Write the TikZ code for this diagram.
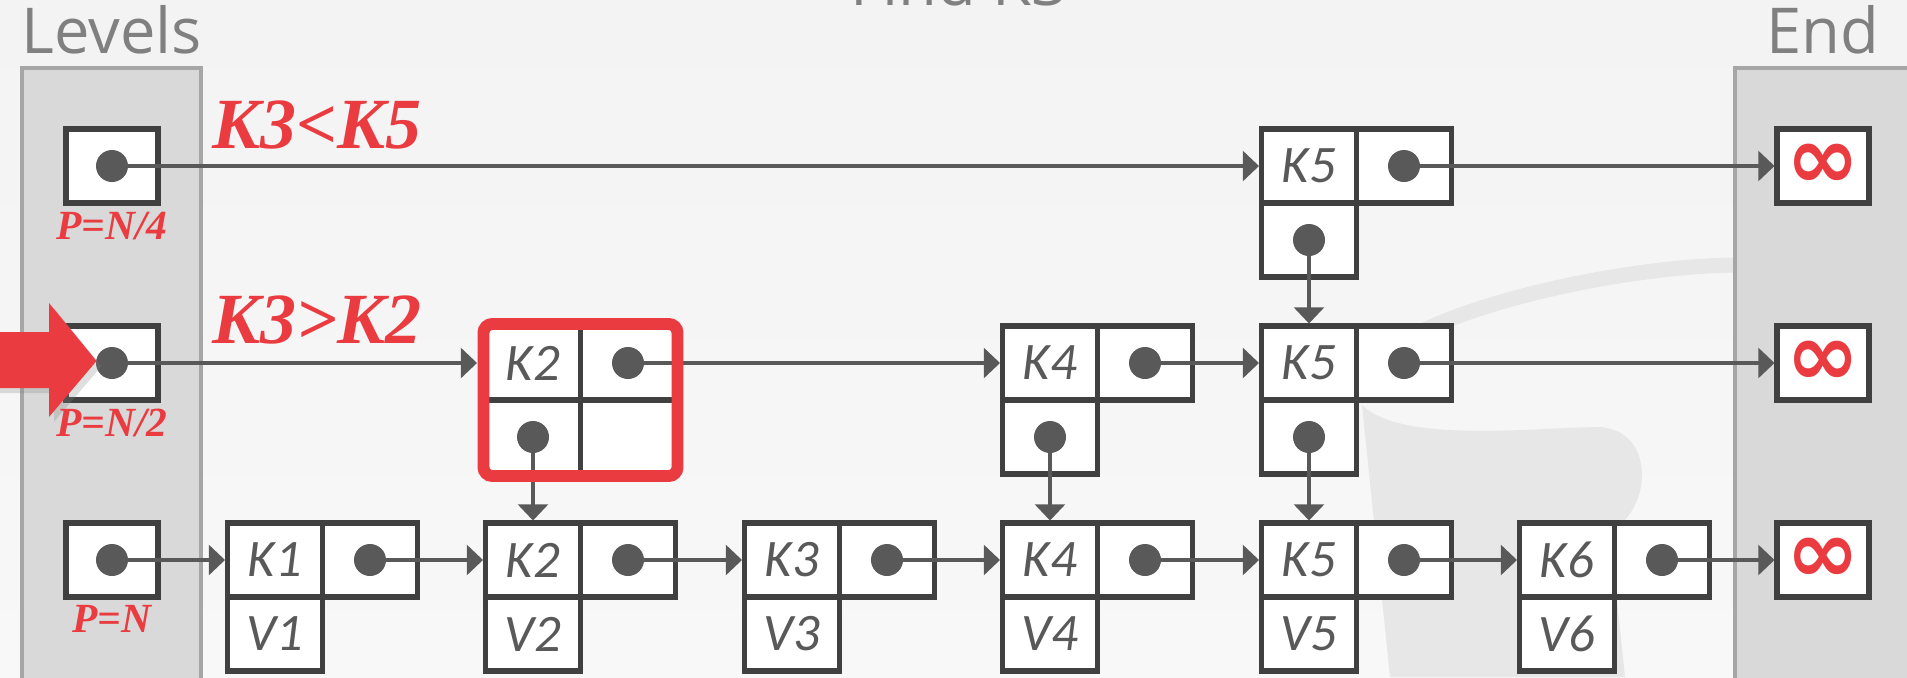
\documentclass[tikz,border=0pt]{standalone}
\usepackage{fontspec}
\setmainfont{Open Sans}
\newfontfamily\keyfam{Carlito}
\newfontfamily\redfam{Liberation Serif}
\newfontfamily\symfam{DejaVu Sans}
\usepackage{tikz}
\usetikzlibrary{arrows.meta, calc, positioning, shadows}

\definecolor{bgtop}{RGB}{243,243,243}
\definecolor{bgbot}{RGB}{248,248,248}
\definecolor{wmark}{RGB}{231,231,231}
\definecolor{boxgray}{RGB}{64,64,64}
\definecolor{linkgray}{RGB}{89,89,89}
\definecolor{lvlfill}{RGB}{217,217,217}
\definecolor{lvldraw}{RGB}{166,166,166}
\definecolor{titlegray}{RGB}{128,128,128}
\definecolor{hotred}{RGB}{234,60,64}

\begin{document}
\begin{tikzpicture}[>={Triangle[length=4.6pt,width=8.4pt]},
   cell/.style={draw=boxgray,line width=1.45pt,fill=white,minimum width=0.95cm,
     minimum height=0.74cm,inner sep=0pt,outer sep=0pt,text=linkgray,
     font=\keyfam\itshape\fontsize{15}{17}\selectfont},
   headcell/.style={cell,minimum width=0.92cm},
   endcell/.style={headcell,text=hotred,font=\symfam\bfseries\fontsize{25}{27}\selectfont},
   link/.style={->,draw=linkgray,line width=1.25pt,shorten >=0.7pt},
   heading/.style={text=titlegray,inner sep=0pt,font=\fontsize{18}{20}\selectfont},
   cmp/.style={text=hotred,inner sep=0pt,font=\redfam\bfseries\itshape\fontsize{20.5}{22}\selectfont},
   plbl/.style={text=hotred,inner sep=0pt,font=\redfam\bfseries\itshape\fontsize{11.8}{13}\selectfont},
   lvlbox/.style={draw=lvldraw,fill=lvlfill,line width=0.9pt}]
  \useasboundingbox (0,0) rectangle (19.07,6.77);
  \clip (0,0) rectangle (19.07,6.77);
  \shade[top color=bgtop,bottom color=bgbot] (0,0) rectangle (19.07,6.77);
  % faint logo behind
  \draw[wmark,line width=4.3pt,line cap=round] (14.05,3.37) .. controls (14.8,3.8) and (16.4,4.12) .. (17.4,4.12);
  \fill[wmark] (13.62,2.72) .. controls (14.0,2.35) and (15.2,2.48) .. (15.94,2.50)
    .. controls (16.55,2.52) and (16.55,1.7) .. (16.1,1.45) -- (16.25,0) -- (13.9,0) -- cycle;
  % level columns
  \draw[lvlbox] (0.22,6.09) rectangle (2.01,-0.3);
  \draw[lvlbox] (17.35,6.09) rectangle (19.4,-0.3);
  \node[heading,anchor=base west] (lvlT) at (0.21,6.24) {Levels};
  \node[heading,anchor=base west] (endT) at (17.66,6.24) {End};
  \node[heading,anchor=base] (findT) at (9.59,6.72) {Find K3};
  % heads and ends
  \node[headcell] (hT) at (1.12,5.11) {};
  \node[headcell] (hM) at (1.12,3.14) {};
  \node[headcell] (hB) at (1.12,1.17) {};
  \node[endcell] (eT) at (18.23,5.11) {∞};
  \node[endcell] (eM) at (18.23,3.14) {∞};
  \node[endcell] (eB) at (18.23,1.17) {∞};
  % top level
  \node[cell] (k5t) at (13.09,5.11) {K5};
  \node[cell,right=0pt of k5t] (k5tp) {};
  \node[cell,below=0pt of k5t] (k5td) {};
  % middle level
  \node[cell] (k2m) at (5.33,3.14) {K2};
  \node[cell,right=0pt of k2m] (k2mp) {};
  \node[cell,below=0pt of k2m] (k2md) {};
  \node[cell,below=0pt of k2mp] (k2mx) {};
  \node[cell] (k4m) at (10.50,3.14) {K4};
  \node[cell,right=0pt of k4m] (k4mp) {};
  \node[cell,below=0pt of k4m] (k4md) {};
  \node[cell] (k5m) at (13.09,3.14) {K5};
  \node[cell,right=0pt of k5m] (k5mp) {};
  \node[cell,below=0pt of k5m] (k5md) {};
  % bottom level
  \foreach \i/\x in {1/2.75,2/5.33,3/7.92,4/10.50,5/13.09,6/15.67} {
    \node[cell] (k\i) at (\x,1.17) {K\i};
    \node[cell,right=0pt of k\i] (p\i) {};
    \node[cell,below=0pt of k\i] (v\i) {V\i};
  }
  % links
  \draw[link] (hT.center) -- (k5t.west);
  \draw[link] (k5tp.center) -- (eT.west);
  \draw[link,shorten >=2.4pt] (hM.center) -- (k2m.west);
  \draw[link] (k2mp.center) -- (k4m.west);
  \draw[link] (k4mp.center) -- (k5m.west);
  \draw[link] (k5mp.center) -- (eM.west);
  \draw[link] (hB.center) -- (k1.west);
  \draw[link] (p1.center) -- (k2.west);
  \draw[link] (p2.center) -- (k3.west);
  \draw[link] (p3.center) -- (k4.west);
  \draw[link] (p4.center) -- (k5.west);
  \draw[link] (p5.center) -- (k6.west);
  \draw[link] (p6.center) -- (eB.west);
  \draw[link] (k5td.center) -- (k5m.north);
  \draw[link] (k2md.center) -- (k2.north);
  \draw[link] (k4md.center) -- (k4.north);
  \draw[link] (k5md.center) -- (k5.north);
  \foreach \d in {hT,hM,hB,k5tp,k5td,k2mp,k2md,k4mp,k4md,k5mp,k5md,p1,p2,p3,p4,p5,p6}
    \fill[linkgray] (\d) circle (0.16);
  % current node
  \draw[hotred,line width=3.4pt,rounded corners=2.5pt]
    ($(k2m.north west)+(-0.02,0.02)$) rectangle ($(k2mx.south east)+(0.02,-0.02)$);
  \fill[hotred,drop shadow={shadow xshift=0.05cm,shadow yshift=-0.05cm,opacity=0.25}]
    (-0.1,3.45) -- (0.49,3.45) -- (0.49,3.74) -- (0.965,3.16) -- (0.49,2.60) -- (0.49,2.89) -- (-0.1,2.89) -- cycle;
  % labels
  \node[plbl,below=0.08cm of hT] (pT) {P=N/4};
  \node[plbl,below=0.08cm of hM] (pM) {P=N/2};
  \node[plbl,below=0.08cm of hB] (pB) {P=N};
  \node[cmp,anchor=base west] (cmpT) at (2.12,5.29) {K3<K5};
  \node[cmp,anchor=base west] (cmpM) at (2.12,3.34) {K3>K2};
\end{tikzpicture}
\end{document}
